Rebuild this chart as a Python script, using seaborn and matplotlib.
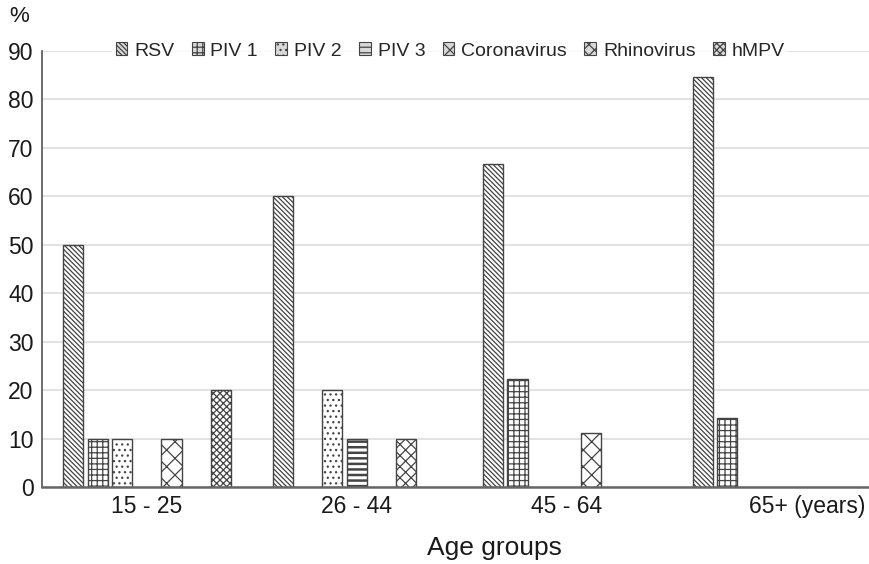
import matplotlib
matplotlib.use("Agg")
import matplotlib.pyplot as plt
import matplotlib.patches as mpatches
import matplotlib.transforms as mtransforms
import seaborn as sns
import pandas as pd

age_groups = ["15 - 25", "26 - 44", "45 - 64", "65+ (years)"]
viruses = ["RSV", "PIV 1", "PIV 2", "PIV 3", "Coronavirus", "Rhinovirus", "hMPV"]
rsv = [50, 60, 66.7, 84.6]
piv1 = [10, 0, 22.2, 14.3]
piv2 = [10, 20, 0, 0]
piv3 = [0, 10, 0, 0]
coronavirus = [10, 0, 11.1, 0]
rhinovirus = [0, 10, 0, 0]
hmpv = [20, 0, 0, 0]
yticks = [0, 10, 20, 30, 40, 50, 60, 70, 80, 90]

series = [rsv, piv1, piv2, piv3, coronavirus, rhinovirus, hmpv]
rows = []
for v, vals in zip(viruses, series):
    for g, val in zip(age_groups, vals):
        if val > 0:
            rows.append({"Age": g, "Virus": v, "Value": val})
df = pd.DataFrame(rows)

sns.set_theme(style="white")
plt.rcParams["font.family"] = ["Liberation Sans", "DejaVu Sans"]
plt.rcParams["hatch.color"] = "#3a3a3a"
plt.rcParams["hatch.linewidth"] = 0.9

hatches = ["\\\\\\\\\\\\\\", "+++", "...", "---", "xx", "xxx", "xxxxx"]
hatch_lw = [0.9, 0.9, 0.9, 1.8, 0.9, 0.9, 0.9]

fig = plt.figure(figsize=(8.7, 5.64), dpi=100)
ax = fig.add_axes([42/870, (564-487)/564, 828/870, (487-51)/564])

sns.barplot(data=df, x="Age", y="Value", hue="Virus", order=age_groups,
            hue_order=viruses, width=0.819, gap=0.18,
            palette=["white"]*7, edgecolor="#444444", linewidth=1.0,
            legend=False, ax=ax, saturation=1)

for cont, h, hl in zip(ax.containers, hatches, hatch_lw):
    for bar in cont:
        bar.set_hatch(h)
        if hasattr(bar, "set_hatch_linewidth"):
            bar.set_hatch_linewidth(hl)

ax.set_xlim(-0.5, 3.446)
ax.set_ylim(0, 90)
ax.set_yticks(yticks)
ax.yaxis.grid(True, color="#dddddd", linewidth=1.2)
ax.set_axisbelow(True)
for s in ["top", "right"]:
    ax.spines[s].set_visible(False)
ax.spines["left"].set_color("#555555")
ax.spines["left"].set_linewidth(1.2)
ax.spines["bottom"].set_color("#666666")
ax.spines["bottom"].set_linewidth(1.8)
ax.tick_params(axis="both", labelsize=16.5, colors="#1a1a1a", length=0, pad=6)
ax.set_ylabel("")
ax.set_xlabel("")

labels = ax.get_xticklabels()
last = labels[-1]
last.set_ha("left")
last.set_transform(last.get_transform() + mtransforms.ScaledTranslation(-0.27, 0, fig.dpi_scale_trans))

fig.text(494/870, 1 - 548/564, "Age groups", ha="center", va="center", fontsize=19, color="#1a1a1a")
fig.text(19/870, 1 - 16/564, "%", ha="center", va="center", fontsize=16, color="#1a1a1a")

handles = [mpatches.Patch(facecolor="#d8d8d8", edgecolor="#444444", hatch=h, label=v, linewidth=0.8)
           for v, h in zip(viruses, hatches)]
leg = ax.legend(handles=handles, loc="center", bbox_to_anchor=(0.493, 1.0), ncol=7,
                frameon=True, fontsize=14, handlelength=0.6, handleheight=0.6,
                handletextpad=0.35, columnspacing=0.9, borderpad=0.2, borderaxespad=0)
leg.get_frame().set_facecolor("white")
leg.get_frame().set_edgecolor("white")
leg.get_frame().set_linewidth(0)

fig.savefig("out.png", dpi=100)
